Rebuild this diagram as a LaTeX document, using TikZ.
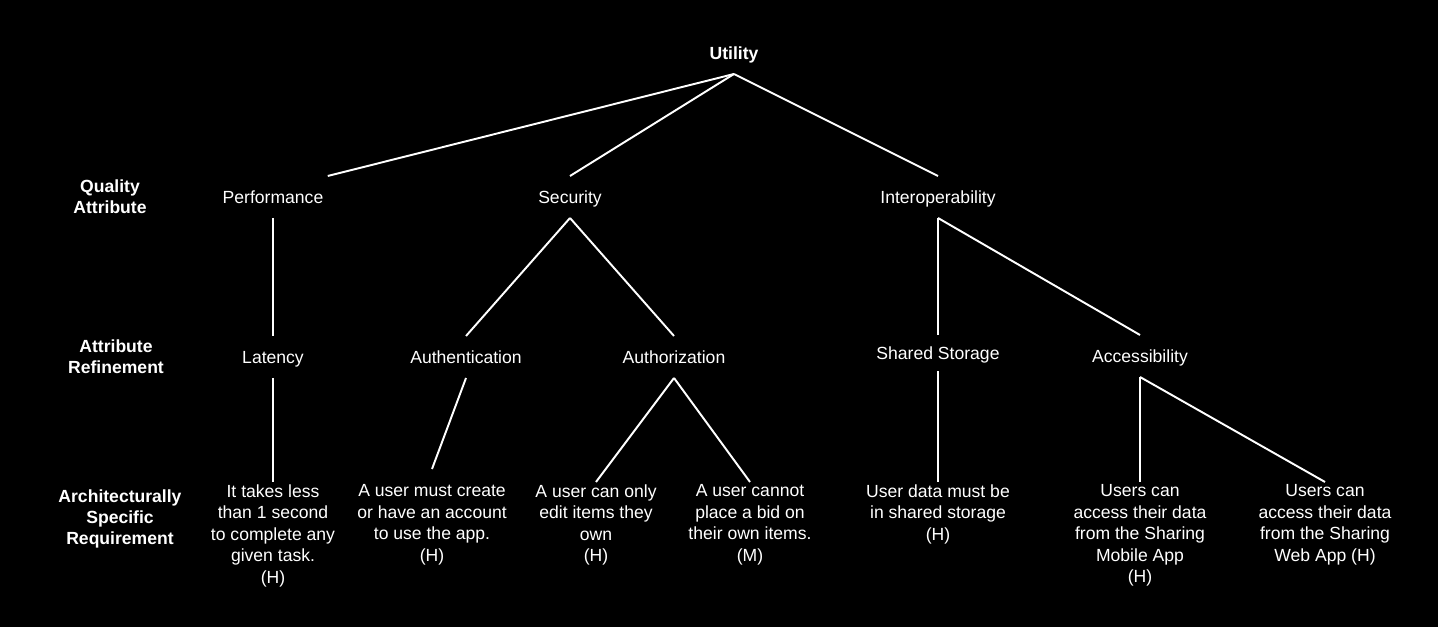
\documentclass[tikz,border=0pt]{standalone}
\usepackage{fontspec}
\setmainfont{Liberation Sans}
\begin{document}
\begin{tikzpicture}[
    white, line width=1.1pt,
    every node/.style={text=white, font=\fontsize{10}{12.2}\selectfont},
    attr/.style={text height=8.5pt, text depth=1.5pt, inner xsep=2pt, inner ysep=6.4pt},
    req/.style={anchor=north, align=center, inner ysep=1pt},
    lvl/.style={align=center, font=\fontsize{10}{12.2}\selectfont\bfseries}]
  \fill[black] (0,0) rectangle (28.76,12.54);
  % level labels
  \node[lvl] (qa) at (2.2,8.6) {Quality\\Attribute};
  \node[lvl] (ar) at (2.32,5.4) {Attribute\\Refinement};
  \node[lvl] (asr) at (2.4,2.16) {Architecturally\\Specific\\Requirement};
  % tree
  \node[attr, font=\fontsize{10}{12.2}\selectfont\bfseries] (util) at (14.68,11.48) {Utility};
  \node[attr] (perf) at (5.46,8.6) {Performance};
  \node[attr] (sec) at (11.4,8.6) {Security};
  \node[attr] (interop) at (18.76,8.6) {Interoperability};
  \node[attr] (lat) at (5.46,5.4) {Latency};
  \node[attr] (authn) at (9.32,5.4) {Authentication};
  \node[attr] (authz) at (13.48,5.4) {Authorization};
  \node[attr, inner ysep=4.7pt] (store) at (18.76,5.48) {Shared Storage};
  \node[attr] (access) at (22.8,5.42) {Accessibility};
  \node[req] (task) at (5.46,2.9) {It takes less\\than 1 second\\to complete any\\given task.\\(H)};
  \node[req] (acct) at (8.64,2.9) {A user must create\\or have an account\\to use the app.\\(H)};
  \node[req] (edit) at (11.92,2.9) {A user can only\\edit items they\\own\\(H)};
  \node[req] (bid) at (15.0,2.9) {A user cannot\\place a bid on\\their own items.\\(M)};
  \node[req] (data) at (18.76,2.9) {User data must be\\in shared storage\\(H)};
  \node[req] (mobile) at (22.8,2.9) {Users can\\access their data\\from the Sharing\\Mobile App\\(H)};
  \node[req] (web) at (26.5,2.9) {Users can\\access their data\\from the Sharing\\Web App (H)};
  % edges
  \draw (util.south) -- (perf.north east);
  \draw (util.south) -- (sec.north);
  \draw (util.south) -- (interop.north);
  \draw (perf.south) -- (lat.north);
  \draw (sec.south) -- (authn.north);
  \draw (sec.south) -- (authz.north);
  \draw (interop.south) -- (store.north);
  \draw (interop.south) -- (access.north);
  \draw (lat.south) -- (task.north);
  \draw (authn.south) -- ([yshift=0.26cm]acct.north);
  \draw (authz.south) -- (edit.north);
  \draw (authz.south) -- (bid.north);
  \draw (store.south) -- (data.north);
  \draw (access.south) -- (mobile.north);
  \draw (access.south) -- (web.north);
\end{tikzpicture}
\end{document}
